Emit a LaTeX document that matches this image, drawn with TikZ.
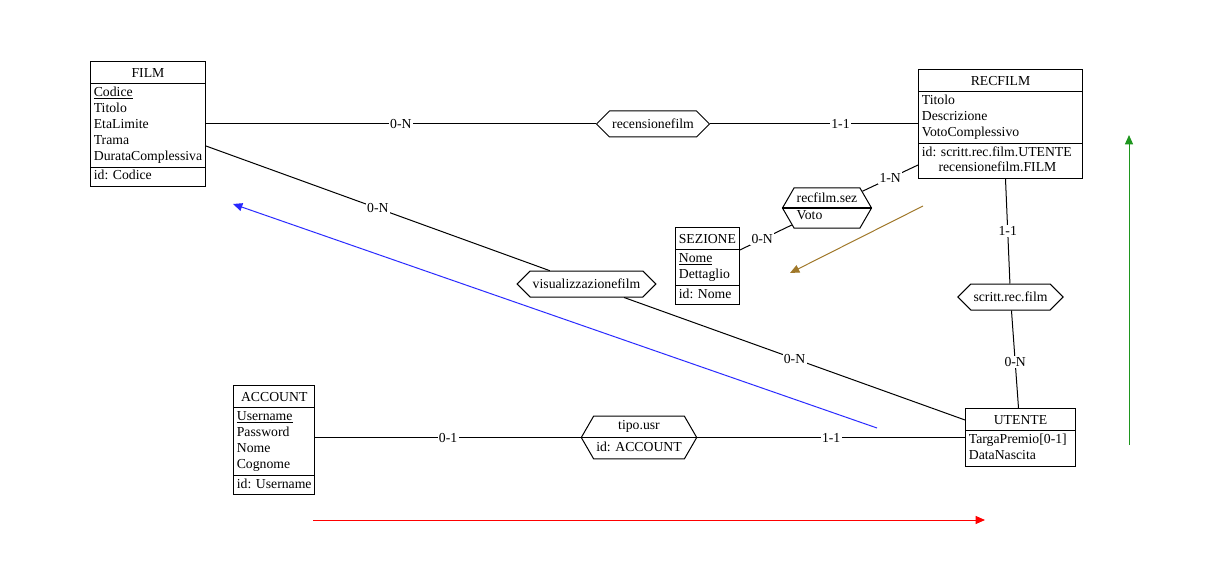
\documentclass[tikz,border=0pt]{standalone}
\usepackage{fontspec}
\setmainfont{Liberation Serif}
\usetikzlibrary{shapes.multipart,shapes.symbols,arrows.meta,calc}
\newcommand{\attr}[1]{\begin{tabular}{@{}l@{}}#1\end{tabular}}
\newcommand{\ttl}[1]{\begin{tabular}{@{}c@{}}\rule{0pt}{10.5pt}#1\end{tabular}}
\begin{document}
\begin{tikzpicture}[x=0.75pt,y=-0.75pt,
  font=\fontsize{10.3}{12}\selectfont,
  line width=0.75pt,
  ent/.style={draw, rectangle split, rectangle split parts=3,
    rectangle split part align={center,left,left},
    inner xsep=2.5pt, inner ysep=0.9pt, anchor=north west},
  ent2/.style={ent, rectangle split parts=2, rectangle split part align={center,left}},
  rel/.style={draw, fill=white, signal, signal to=west and east, signal pointer angle=90,
    inner xsep=2pt, inner ysep=1pt, minimum height=19.5pt},
  rel2/.style={rel, signal pointer angle=120, inner ysep=1pt},
  lab/.style={fill=white, inner sep=1pt},
  conn/.style={draw=black},
  arr/.style={-{Triangle[length=7pt,width=6pt]}, line width=0.75pt}
]
\useasboundingbox (0,0) rectangle (1217,588);

% entities
\node[ent] (film) at (90,61) {\ttl{FILM}
  \nodepart{two}\attr{\underline{Codice}\\Titolo\\EtaLimite\\Trama\\DurataComplessiva}
  \nodepart{three}\attr{id: Codice}};
\node[ent, minimum width=123pt] (rf) at (918,69) {\ttl{RECFILM}
  \nodepart{two}\attr{Titolo\\Descrizione\\VotoComplessivo}
  \nodepart{three}\attr{id: scritt.rec.film.UTENTE\\\hspace*{12.5pt}recensionefilm.FILM}};
\node[ent] (sezione) at (675,227) {\ttl{SEZIONE}
  \nodepart{two}\attr{\underline{Nome}\\Dettaglio}
  \nodepart{three}\attr{id: Nome}};
\node[ent] (acc) at (233,385) {\ttl{ACCOUNT}
  \nodepart{two}\attr{\underline{Username}\\Password\\Nome\\Cognome}
  \nodepart{three}\attr{id: Username}};
\node[ent2, minimum width=82.5pt] (ut) at (965,408) {\ttl{UTENTE}
  \nodepart{two}\attr{TargaPremio[0-1]\\DataNascita}};

% relationships
\node[rel] (rec) at (653,124) {recensionefilm};
\node[rel] (vis) at (586.5,284) {visualizzazionefilm};
\node[rel] (scr) at (1010.5,297) {scritt.rec.film};
\node[rel2, minimum height=30pt] (sez) at (827,208)
  {\begin{tabular}{@{}l@{}}recfilm.sez\\[0.75pt]Voto\end{tabular}};
\node[rel2, minimum height=32pt] (tipo) at (639,437.5)
  {\begin{tabular}{@{}c@{}}tipo.usr\\[4.5pt]id: ACCOUNT\end{tabular}};
\draw (sez.west) -- (sez.east);
\draw (tipo.west) -- (tipo.east);

% helper coordinates
\coordinate (f2) at ($(film.north east)+(0,85)$);
\coordinate (utv) at ($(ut.north west)+(0,12)$);
\coordinate (rfs) at ($(rf.north west)+(0,96)$);
\coordinate (sze) at ($(sezione.north east)+(0,23)$);
\coordinate (rfb) at ($(rf.south)+(5,0)$);
\coordinate (utn) at ($(ut.north)+(-2,0)$);

% connectors
\draw[conn] (film.east |- rec.west) -- node[lab]{0-N} (rec.west);
\draw[conn] (rec.east) -- node[lab, pos=0.627]{1-1} (rf.west |- rec.east);
\draw[conn] (f2) -- node[lab]{0-N} (vis);
\draw[conn] (vis) -- node[lab]{0-N} (utv);
\draw[conn] (rfs) -- node[lab]{1-N} (sez);
\draw[conn] (sez) -- node[lab, pos=0.57]{0-N} (sze);
\draw[conn] (rfb) -- node[lab]{1-1} (scr);
\draw[conn] (scr) -- node[lab, pos=0.53]{0-N} (utn);
\draw[conn] (acc.east |- tipo.west) -- node[lab]{0-1} (tipo.west);
\draw[conn] (tipo.east) -- node[lab]{1-1} (ut.west |- tipo.east);

% arrows
\coordinate (b1) at (877,428); \coordinate (b2) at (233,204);
\coordinate (o1) at (923,206); \coordinate (o2) at (790,273);
\coordinate (r1) at (313,520); \coordinate (r2) at (985,520);
\coordinate (g1) at (1129,445); \coordinate (g2) at (1129,135);
\draw[arr, color={rgb,255:red,40;green,40;blue,255}] (b1) -- (b2);
\draw[arr, color={rgb,255:red,160;green,120;blue,42}] (o1) -- (o2);
\draw[arr, color={rgb,255:red,255;green,0;blue,0}] (r1) -- (r2);
\draw[arr, color={rgb,255:red,30;green,150;blue,30}] (g1) -- (g2);
\end{tikzpicture}
\end{document}
